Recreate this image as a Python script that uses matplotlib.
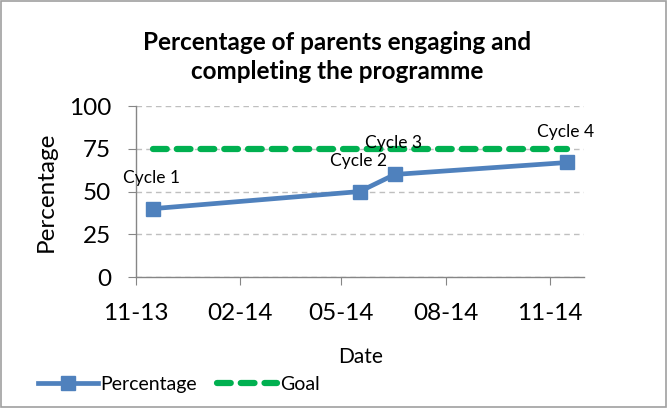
import matplotlib
matplotlib.use("Agg")
import matplotlib.pyplot as plt
import matplotlib.dates as mdates
from matplotlib.lines import Line2D
from matplotlib.patches import Rectangle
import datetime as dt

plt.rcParams['font.family'] = ['Lato', 'DejaVu Sans']

dates = [dt.date(2013, 11, 16), dt.date(2014, 5, 17), dt.date(2014, 6, 17), dt.date(2014, 11, 16)]
percentage = [40, 50, 60, 67]
goal = [75, 75, 75, 75]
cycle_labels = ["Cycle 1", "Cycle 2", "Cycle 3", "Cycle 4"]
yticks = [0, 25, 50, 75, 100]

blue = "#4F81BD"
green = "#00B050"

fig = plt.figure(figsize=(6.67, 4.08), dpi=100)
ax = fig.add_axes([0.204, 0.321, 0.672, 0.419])

ax.plot(dates, goal, color=green, lw=4.5, ls=(0, (2.2, 1.6)), dash_capstyle='round', zorder=3)
ax.plot(dates, percentage, color=blue, lw=3.4, marker='s', markersize=10, zorder=4)

for d, v, lab in zip(dates, percentage, cycle_labels):
    ax.annotate(lab, (mdates.date2num(d), v), xytext=(-21.6, 22.3), textcoords='offset points',
                fontsize=12.5, ha='left', va='center', color='black', zorder=5)

ax.set_xlim(mdates.date2num(dt.date(2013, 11, 1)), mdates.date2num(dt.date(2014, 12, 1)))
ax.set_ylim(0, 100)
ax.set_yticks(yticks)
ax.set_xticks([mdates.date2num(dt.date(y, m, 1)) for y, m in [(2013, 11), (2014, 2), (2014, 5), (2014, 8), (2014, 11)]])
ax.xaxis.set_major_formatter(mdates.DateFormatter('%m-%y'))

ax.grid(axis='y', color='#BFBFBF', ls=(0, (4, 3)), lw=1)
ax.set_axisbelow(True)
for s in ['top', 'right']:
    ax.spines[s].set_visible(False)
for s in ['left', 'bottom']:
    ax.spines[s].set_color('#868686')
    ax.spines[s].set_linewidth(1)
ax.tick_params(axis='both', colors='#868686', labelcolor='black', labelsize=17.5, length=6, direction='out')
ax.tick_params(axis='x', pad=13)
ax.tick_params(axis='y', pad=12)

ax.set_ylabel("Percentage", fontsize=17.5)
ax.yaxis.set_label_coords(-0.178, 0.5)
ax.set_xlabel("Date", fontsize=15, labelpad=16)

fig.suptitle("Percentage of parents engaging and\ncompleting the programme", fontsize=17.5,
             fontweight='bold', x=0.505, y=0.925, va='top', linespacing=1.35)

handles = [Line2D([], [], color=blue, lw=3.4, marker='s', markersize=10),
           Line2D([], [], color=green, lw=4.5, ls=(0, (2.2, 1.6)), dash_capstyle='round')]
fig.legend(handles, ["Percentage", "Goal"], loc='lower left', bbox_to_anchor=(0.03, -0.005),
           ncol=2, frameon=False, fontsize=14, handlelength=3.1, handletextpad=0.15, columnspacing=1.0)

fig.patches.append(Rectangle((0.002, 0.002), 0.996, 0.996, transform=fig.transFigure,
                             fill=False, edgecolor='#A0A0A0', lw=1.2))

fig.savefig("out.png", dpi=100)
